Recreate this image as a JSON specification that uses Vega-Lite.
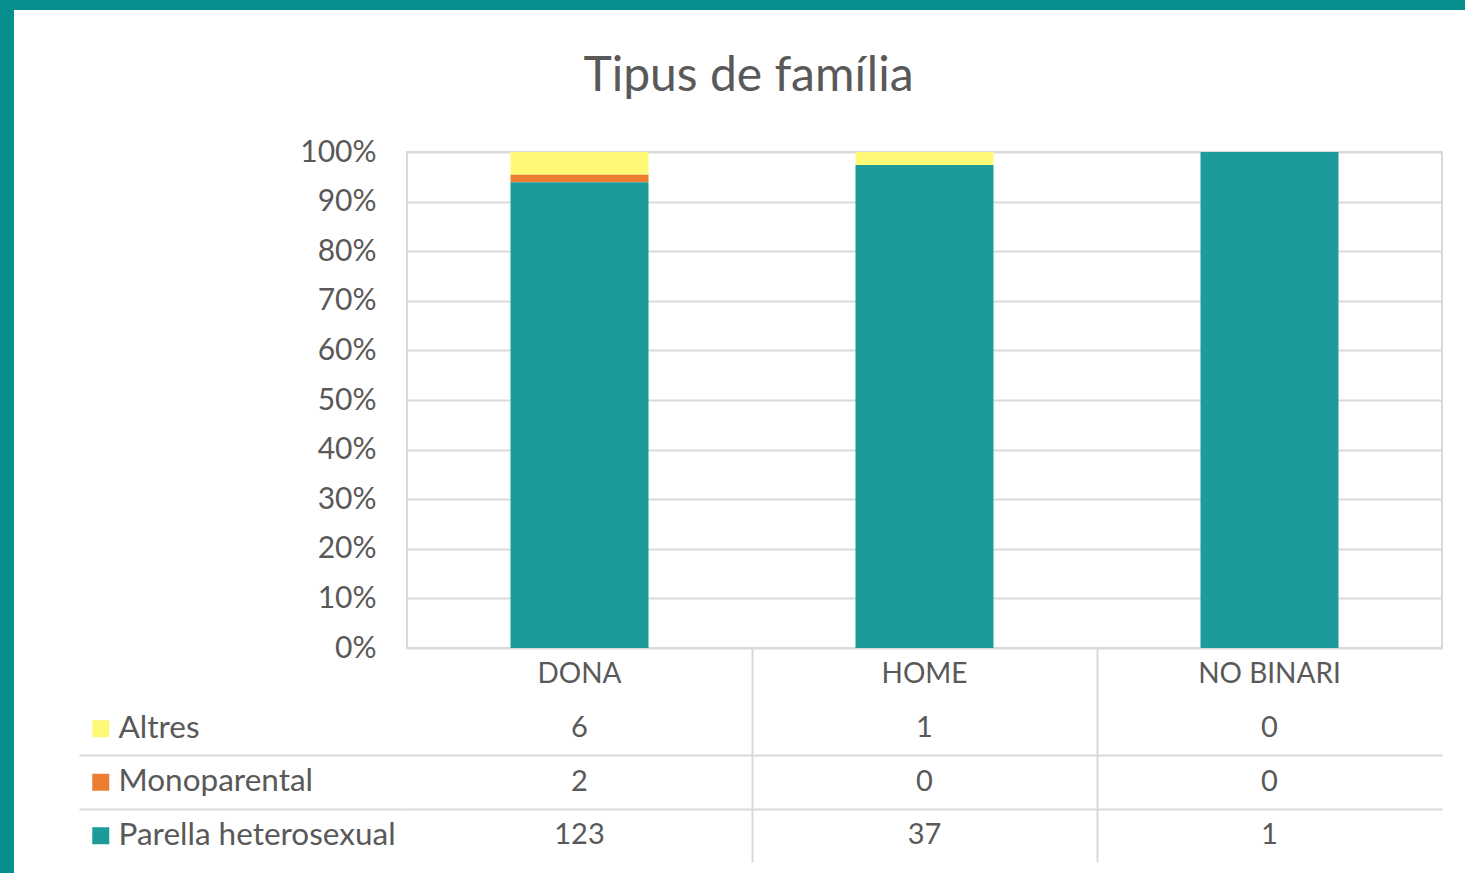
{
  "$schema": "https://vega.github.io/schema/vega-lite/v6.json",
  "background": "white",
  "padding": 0,
  "datasets": {
    "fam": [
      {"gender": "DONA", "type": "Altres", "count": 6},
      {"gender": "DONA", "type": "Monoparental", "count": 2},
      {"gender": "DONA", "type": "Parella heterosexual", "count": 123},
      {"gender": "HOME", "type": "Altres", "count": 1},
      {"gender": "HOME", "type": "Monoparental", "count": 0},
      {"gender": "HOME", "type": "Parella heterosexual", "count": 37},
      {"gender": "NO BINARI", "type": "Altres", "count": 0},
      {"gender": "NO BINARI", "type": "Monoparental", "count": 0},
      {"gender": "NO BINARI", "type": "Parella heterosexual", "count": 1}
    ]
  },
  "config": {
    "font": "Lato",
    "view": {"stroke": null}
  },
  "spacing": 0,
  "vconcat": [
    {
      "data": {"values": []},
      "mark": "point",
      "width": 1465,
      "height": 10,
      "view": {"fill": "#078f8f", "stroke": null}
    },
    {
      "spacing": 64,
      "hconcat": [
        {
          "data": {"values": []},
          "mark": "point",
          "width": 14,
          "height": 863,
          "view": {"fill": "#078f8f", "stroke": null}
        },
        {
          "spacing": 0,
          "bounds": "flush",
          "resolve": {"scale": {"x": "independent", "y": "independent"}},
          "vconcat": [
            {
              "data": {"values": []},
              "mark": "point",
              "width": 1035,
              "height": 142,
              "view": {"stroke": null}
            },
            {
              "data": {"name": "fam"},
              "width": 1035,
              "height": 496,
              "title": {
                "text": "Tipus de família",
                "fontSize": 48,
                "font": "Lato",
                "color": "#595959",
                "fontWeight": "normal",
                "anchor": "middle",
                "dx": -176,
                "offset": 36
              },
              "view": {"stroke": "#d9d9d9", "strokeWidth": 2},
              "mark": {"type": "bar"},
              "encoding": {
                "x": {
                  "field": "gender",
                  "type": "nominal",
                  "scale": {"paddingInner": 0.6, "paddingOuter": 0.3},
                  "axis": null
                },
                "y": {
                  "field": "count",
                  "type": "quantitative",
                  "stack": "normalize",
                  "axis": {
                    "values": [0, 0.1, 0.2, 0.3, 0.4, 0.5, 0.6, 0.7, 0.8, 0.9, 1],
                    "format": ".0%",
                    "title": null,
                    "domain": false,
                    "ticks": false,
                    "labelPadding": 31,
                    "labelFontSize": 30,
                    "labelColor": "#595959",
                    "labelFont": "Lato",
                    "gridColor": "#d9d9d9",
                    "gridWidth": 2
                  }
                },
                "color": {
                  "field": "type",
                  "type": "nominal",
                  "scale": {
                    "domain": ["Altres", "Monoparental", "Parella heterosexual"],
                    "range": ["#fff977", "#ed7d31", "#1d9b9b"]
                  },
                  "legend": {
                    "orient": "none",
                    "legendX": 85,
                    "legendY": 713,
                    "title": null,
                    "symbolType": "square",
                    "symbolSize": 289,
                    "symbolStrokeWidth": 0,
                    "symbolOpacity": 1,
                    "labelFontSize": 31.5,
                    "labelColor": "#595959",
                    "labelFont": "Lato",
                    "labelOffset": 2,
                    "rowPadding": 20.5,
                    "padding": 0,
                    "labelLimit": 400
                  }
                },
                "order": {"field": "type", "sort": "descending"}
              }
            },
            {
              "data": {"name": "fam"},
              "width": 1035,
              "height": 214,
              "encoding": {
                "x": {
                  "field": "gender",
                  "type": "nominal",
                  "scale": {"paddingInner": 0, "paddingOuter": 0},
                  "axis": {
                    "title": null,
                    "labels": false,
                    "ticks": false,
                    "domain": false,
                    "grid": true,
                    "tickOffset": -172.5,
                    "values": ["HOME", "NO BINARI"],
                    "gridColor": "#d9d9d9",
                    "gridWidth": 2
                  }
                }
              },
              "layer": [
                {
                  "mark": {"type": "text", "fontSize": 29, "color": "#595959", "font": "Lato"},
                  "encoding": {
                    "y": {
                      "field": "type",
                      "type": "nominal",
                      "scale": {
                        "domain": ["header", "Altres", "Monoparental", "Parella heterosexual"],
                        "paddingInner": 0,
                        "paddingOuter": 0
                      },
                      "axis": {
                        "title": null,
                        "labels": false,
                        "ticks": true,
                        "tickSize": 328,
                        "tickColor": "#d9d9d9",
                        "tickWidth": 2,
                        "domain": false,
                        "grid": true,
                        "gridColor": "#d9d9d9",
                        "gridWidth": 2,
                        "tickOffset": -26.75,
                        "values": ["Monoparental", "Parella heterosexual"]
                      }
                    },
                    "text": {"field": "count", "type": "quantitative"}
                  }
                },
                {
                  "transform": [{"filter": {"field": "type", "equal": "Altres"}}],
                  "mark": {"type": "text", "fontSize": 28, "color": "#595959", "font": "Lato"},
                  "encoding": {
                    "y": {"datum": "header", "type": "nominal"},
                    "text": {"field": "gender", "type": "nominal"}
                  }
                }
              ]
            }
          ]
        }
      ]
    }
  ]
}
